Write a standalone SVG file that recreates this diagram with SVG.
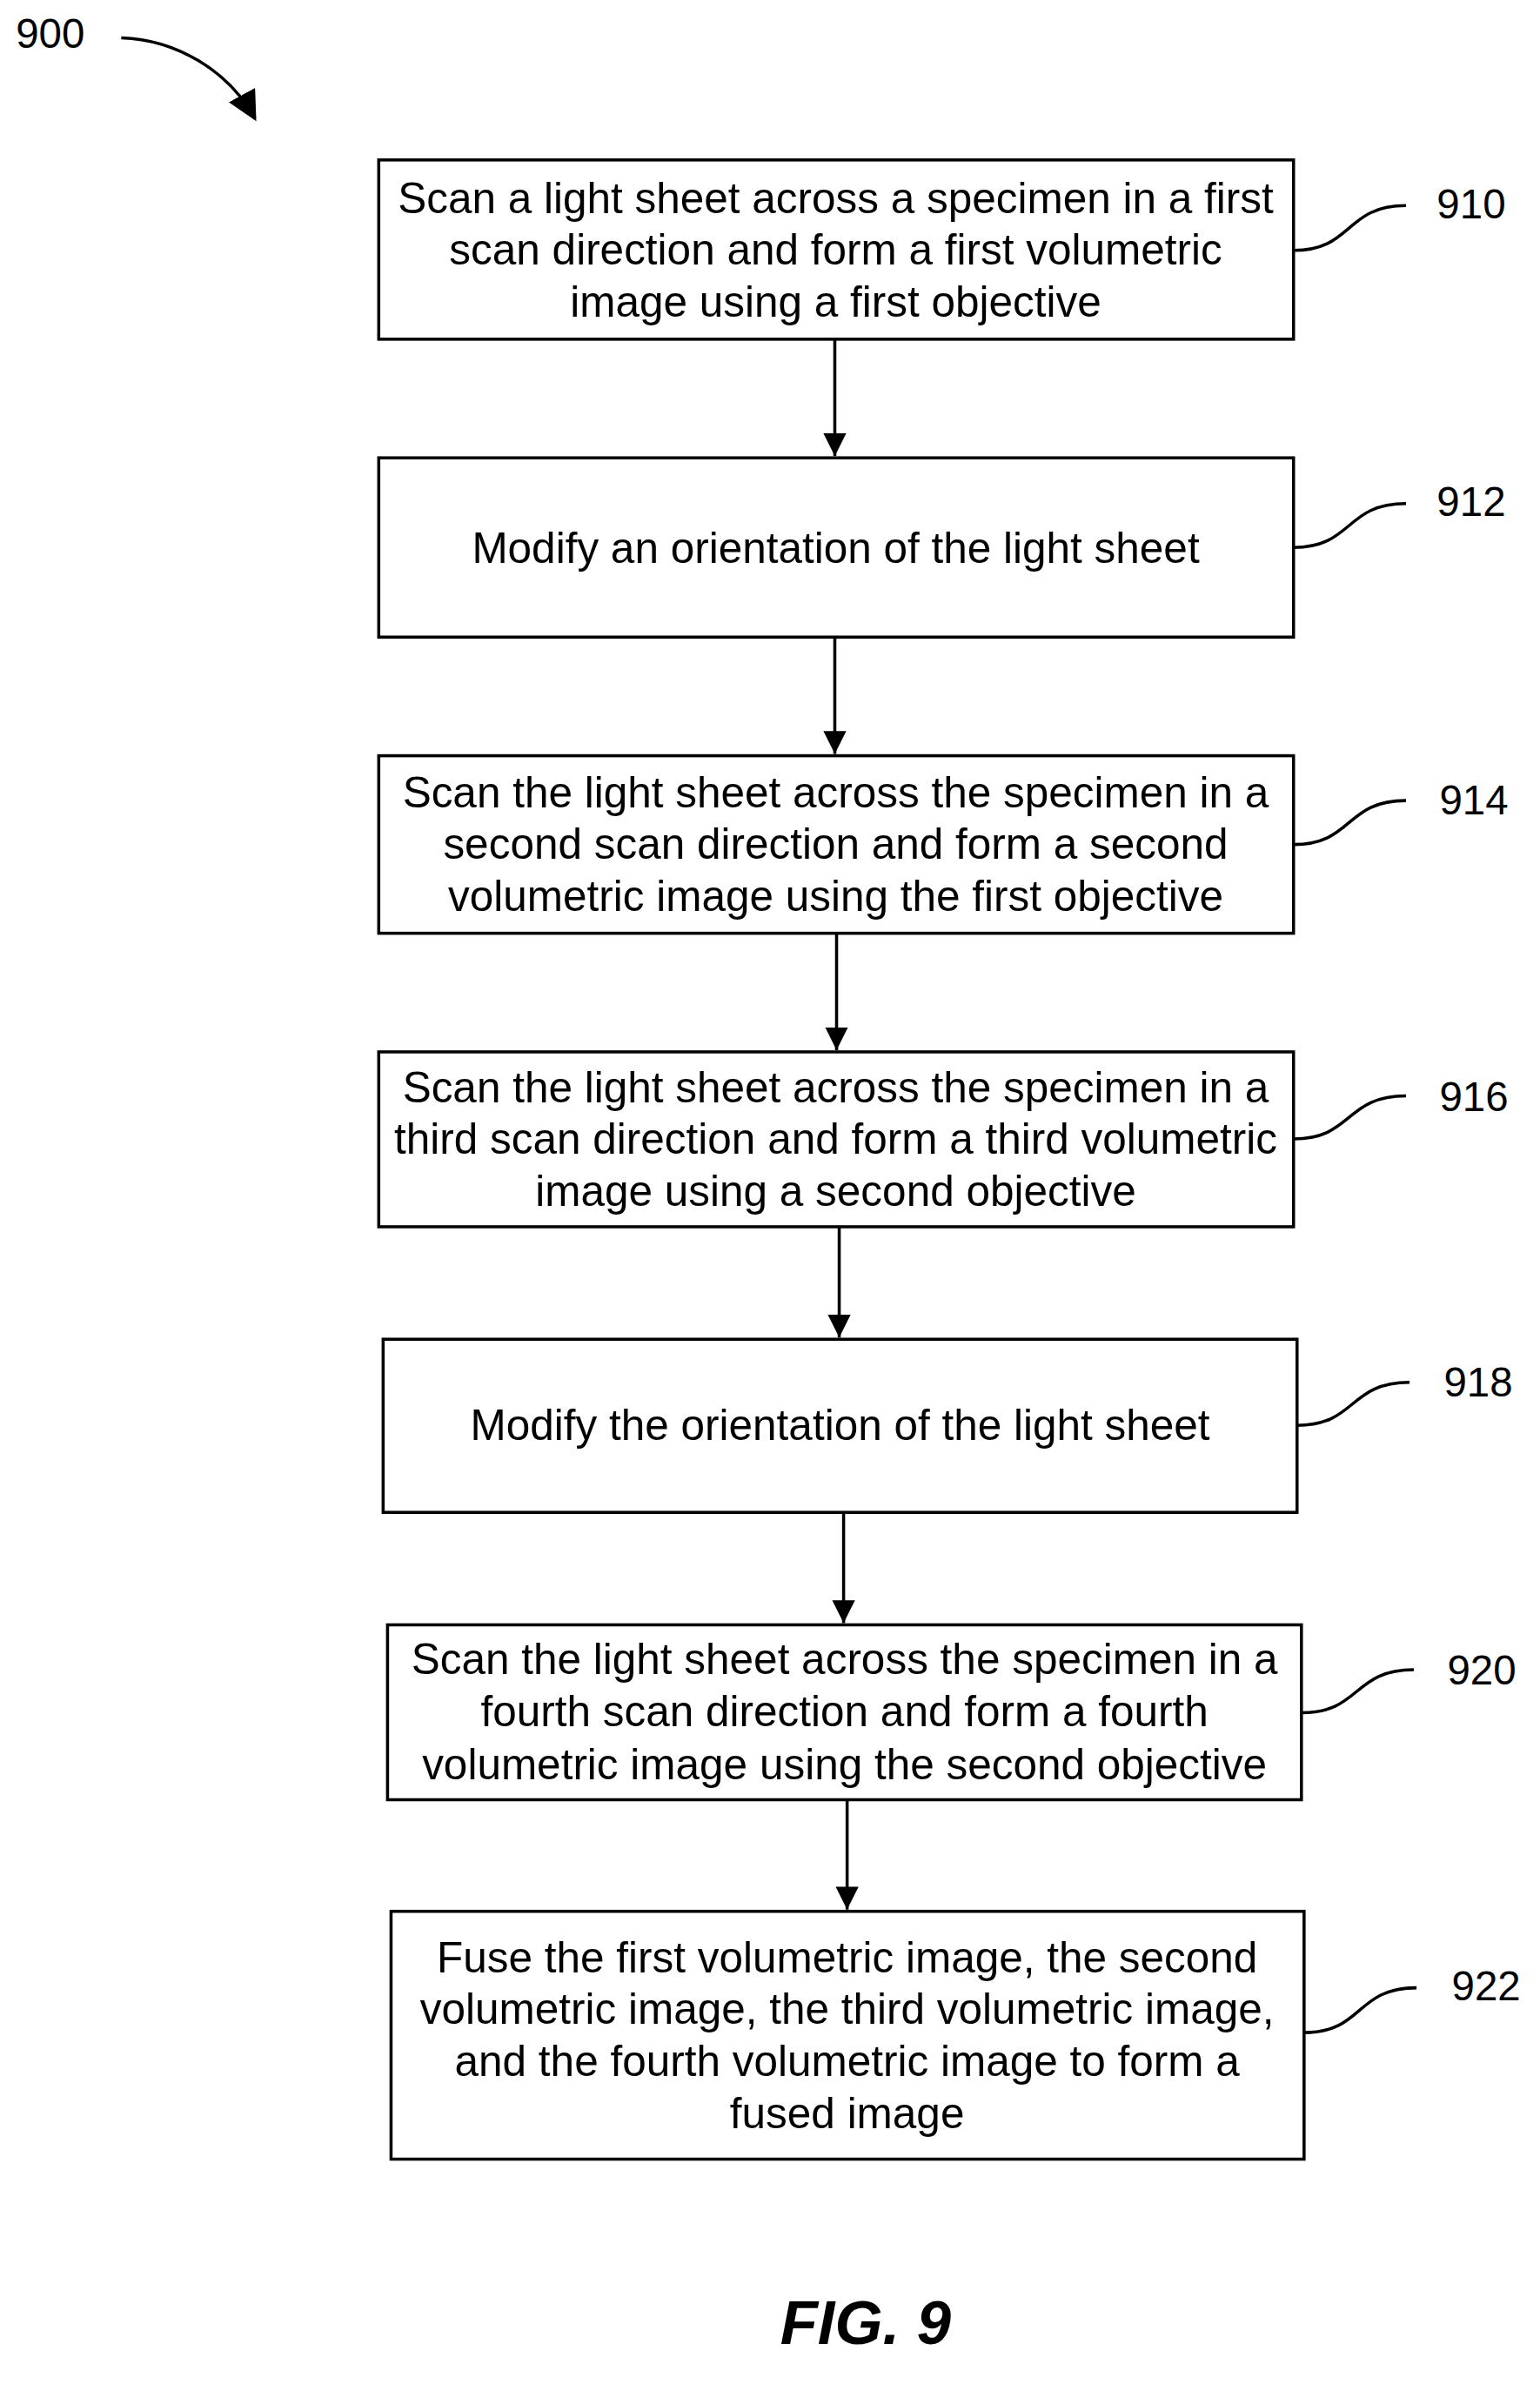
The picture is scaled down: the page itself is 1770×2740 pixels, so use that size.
<svg xmlns="http://www.w3.org/2000/svg" width="1770" height="2740" viewBox="0 0 1770 2740">
<style>
.b{fill:#fff;stroke:#000;stroke-width:3.5}
.t{font-family:"Liberation Sans",Arial,sans-serif;font-size:49px;text-anchor:middle;dominant-baseline:central;fill:#000}
.l{font-family:"Liberation Sans",Arial,sans-serif;font-size:47px;dominant-baseline:central;fill:#000}
.c{fill:none;stroke:#000;stroke-width:3.5}
</style>
<defs><marker id="a" markerWidth="26" markerHeight="30" refX="10" refY="5" orient="auto" markerUnits="userSpaceOnUse" viewBox="0 0 10 10"><path d="M0,0L10,5L0,10z"/></marker>
<marker id="h" viewBox="0 0 10 10" refX="9" refY="5" markerWidth="34" markerHeight="34" orient="auto" markerUnits="userSpaceOnUse"><path d="M0,0L10,5L0,10z"/></marker></defs>
<rect width="1770" height="2740" fill="#fff"/>
<g transform="scale(1.01)">
<text class="l" x="18" y="38">900</text>
<path class="c" d="M138,43 C200,45 260,80 290,135" marker-end="url(#h)"/>
<g id="n910"><rect class="b" x="431" y="182" width="1041" height="204"/><text class="t" x="951" y="225">Scan a light sheet across a specimen in a first</text><text class="t" x="951" y="284">scan direction and form a first volumetric</text><text class="t" x="951" y="343">image using a first objective</text><text class="l" x="1635" y="232">910</text></g>
<g id="n912"><rect class="b" x="431" y="521" width="1041" height="204"/><text class="t" x="951" y="623">Modify an orientation of the light sheet</text><text class="l" x="1635" y="571">912</text></g>
<g id="n914"><rect class="b" x="431" y="860" width="1041" height="202"/><text class="t" x="951" y="901">Scan the light sheet across the specimen in a</text><text class="t" x="951" y="960">second scan direction and form a second</text><text class="t" x="951" y="1019">volumetric image using the first objective</text><text class="l" x="1638" y="910">914</text></g>
<g id="n916"><rect class="b" x="431" y="1197" width="1041" height="199"/><text class="t" x="951" y="1237">Scan the light sheet across the specimen in a</text><text class="t" x="951" y="1296">third scan direction and form a third volumetric</text><text class="t" x="951" y="1355">image using a second objective</text><text class="l" x="1638" y="1248">916</text></g>
<g id="n918"><rect class="b" x="436" y="1524" width="1040" height="197"/><text class="t" x="956" y="1621">Modify the orientation of the light sheet</text><text class="l" x="1643" y="1573">918</text></g>
<g id="n920"><rect class="b" x="441" y="1849" width="1040" height="199"/><text class="t" x="961" y="1888">Scan the light sheet across the specimen in a</text><text class="t" x="961" y="1947">fourth scan direction and form a fourth</text><text class="t" x="961" y="2007">volumetric image using the second objective</text><text class="l" x="1647" y="1900">920</text></g>
<g id="n922"><rect class="b" x="445" y="2175" width="1039" height="282"/><text class="t" x="964" y="2227">Fuse the first volumetric image, the second</text><text class="t" x="964" y="2286">volumetric image, the third volumetric image,</text><text class="t" x="964" y="2345">and the fourth volumetric image to form a</text><text class="t" x="964" y="2404">fused image</text><text class="l" x="1652" y="2260">922</text></g>
<g id="connectors">
<path class="c" d="M950,386V519" marker-end="url(#a)"/>
<path class="c" d="M950,725V858" marker-end="url(#a)"/>
<path class="c" d="M952,1062V1195" marker-end="url(#a)"/>
<path class="c" d="M955,1396V1522" marker-end="url(#a)"/>
<path class="c" d="M960,1721V1847" marker-end="url(#a)"/>
<path class="c" d="M964,2048V2173" marker-end="url(#a)"/>
<path class="c" d="M1472,285C1540,285 1530,234 1600,234"/>
<path class="c" d="M1472,623C1540,623 1530,573 1600,573"/>
<path class="c" d="M1472,961C1540,961 1530,911 1600,911"/>
<path class="c" d="M1472,1296C1540,1296 1530,1247 1600,1247"/>
<path class="c" d="M1476,1622C1544,1622 1534,1573 1604,1573"/>
<path class="c" d="M1481,1949C1549,1949 1539,1900 1609,1900"/>
<path class="c" d="M1484,2313C1552,2313 1542,2262 1612,2262"/>
</g>
<text x="985" y="2643" style="font-family:'Liberation Sans',Arial,sans-serif;font-size:70px;font-weight:bold;font-style:italic;text-anchor:middle;dominant-baseline:central">FIG. 9</text>
</g>
</svg>
